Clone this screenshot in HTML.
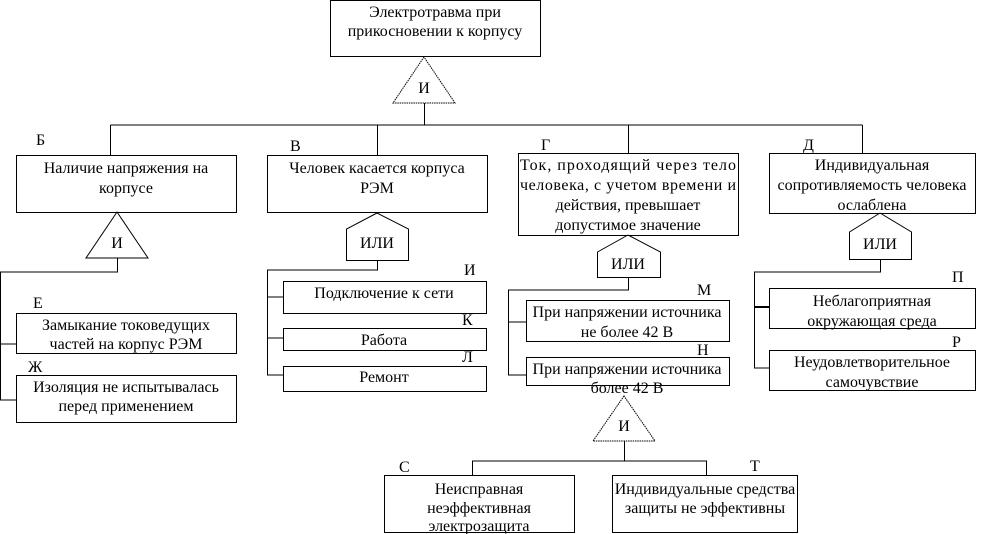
<!DOCTYPE html>
<html><head><meta charset="utf-8"><style>body{margin:0;background:#fff}svg{display:block}text{font-family:"Liberation Serif","Noto Serif CJK SC",serif;font-size:16px;fill:#000}</style></head><body>
<svg width="989" height="534" viewBox="0 0 989 534" xmlns="http://www.w3.org/2000/svg">
<g fill="none" stroke="#000" stroke-width="1">
<rect x="330.5" y="0.5" width="210" height="56"/>
<polygon points="424,57 393,103 455,103" stroke-dasharray="1.5,0.8"/>
<path d="M424.5 103V125M110.5 125H862.5M110.5 125V155M377.5 125V155M628.5 125V153M862.5 125V153"/>
<rect x="16.5" y="155.5" width="220" height="57"/>
<rect x="267.5" y="155.5" width="220" height="57"/>
<rect x="518.5" y="153.5" width="220" height="82"/>
<rect x="769.5" y="153.5" width="206" height="60"/>
<polygon points="117,212 86,258 148,258"/>
<path d="M117.5 258V272H0.5V400H16M0.5 344H16"/>
<rect x="16.5" y="313.5" width="220" height="40"/>
<rect x="16.5" y="375.5" width="220" height="47"/>
<path d="M377 213L346.5 229V260.5H408.5V229L377 213"/>
<path d="M377.5 260V270H267.5V375H283M267.5 297H283M267.5 338H283"/>
<rect x="283.5" y="281.5" width="203" height="32"/>
<rect x="283.5" y="328.5" width="203" height="22"/>
<rect x="283.5" y="366.5" width="203" height="25"/>
<path d="M628 235L597.5 252V277.5H660.5V252L628 235"/>
<path d="M628.5 277V290H508.5V375H526M508.5 322H526"/>
<rect x="526.5" y="300.5" width="203" height="41"/>
<rect x="526.5" y="357.5" width="203" height="28"/>
<path d="M880 213L849.5 232V259.5H911.5V232L880 213"/>
<path d="M880.5 259V272H754.5V368H769M754.5 307H769"/>
<path d="M754 307H769" stroke-width="2"/>
<rect x="769.5" y="288.5" width="206" height="40"/>
<rect x="769.5" y="350.5" width="206" height="40"/>
<polygon points="624,396 593,441 655,441" stroke-dasharray="1.5,0.8"/>
<path d="M624.5 441V461H472.5V475M624.5 461H706.5V475"/>
<rect x="384.5" y="475.5" width="190" height="57"/>
<rect x="612.5" y="475.5" width="185" height="57"/>
</g>
<g text-anchor="middle">
<text x="435" y="17">Электротравма при</text>
<text x="435" y="36">прикосновении к корпусу</text>
<text x="424" y="93">И</text>
<text x="126" y="173">Наличие напряжения на</text>
<text x="126" y="193">корпусе</text>
<text x="377" y="173">Человек касается корпуса</text>
<text x="377" y="193">РЭМ</text>
<text x="628" y="170" textLength="216">Ток, проходящий через тело</text>
<text x="628" y="190" textLength="216">человека, с учетом времени и</text>
<text x="628" y="210">действия, превышает</text>
<text x="628" y="230">допустимое значение</text>
<text x="872" y="170">Индивидуальная</text>
<text x="872" y="190">сопротивляемость человека</text>
<text x="872" y="210">ослаблена</text>
<text x="117" y="248">И</text>
<text x="377" y="248">ИЛИ</text>
<text x="628" y="269">ИЛИ</text>
<text x="880" y="249">ИЛИ</text>
<text x="126" y="330">Замыкание токоведущих</text>
<text x="126" y="349">частей на корпус РЭМ</text>
<text x="126" y="392">Изоляция не испытывалась</text>
<text x="126" y="411">перед применением</text>
<text x="384" y="298">Подключение к сети</text>
<text x="384" y="345">Работа</text>
<text x="384" y="382">Ремонт</text>
<text x="627" y="317">При напряжении источника</text>
<text x="627" y="337">не более 42 В</text>
<text x="627" y="374">При напряжении источника</text>
<text x="627" y="393">более 42 В</text>
<text x="872" y="306">Неблагоприятная</text>
<text x="872" y="326">окружающая среда</text>
<text x="872" y="367">Неудовлетворительное</text>
<text x="872" y="387">самочувствие</text>
<text x="624" y="431">И</text>
<text x="479" y="494">Неисправная</text>
<text x="479" y="513">неэффективная</text>
<text x="479" y="531">электрозащита</text>
<text x="705" y="494">Индивидуальные средства</text>
<text x="705" y="513">защиты не эффективны</text>
</g>
<g>
<text x="36" y="145">Б</text>
<text x="290" y="151">В</text>
<text x="541" y="150">Г</text>
<text x="803" y="150">Д</text>
<text x="33" y="308">Е</text>
<text x="28" y="372">Ж</text>
<text x="464" y="275">И</text>
<text x="462" y="325">К</text>
<text x="462" y="362">Л</text>
<text x="697" y="295">М</text>
<text x="697" y="355">Н</text>
<text x="952" y="282">П</text>
<text x="952" y="347">Р</text>
<text x="399" y="472">С</text>
<text x="750" y="471">Т</text>
</g>
</svg>
</body></html>
